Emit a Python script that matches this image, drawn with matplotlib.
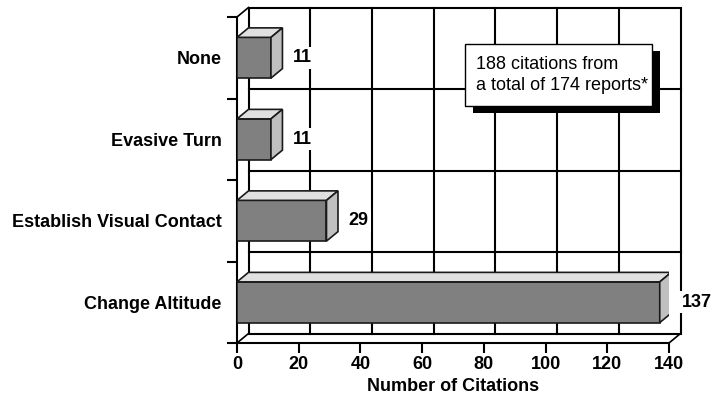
import matplotlib
matplotlib.use("Agg")
from matplotlib import pyplot as plt
from matplotlib.patches import Polygon, Rectangle
import matplotlib.patheffects as pe
import numpy as np

plt.rcParams['font.family'] = ['Liberation Sans', 'DejaVu Sans']

categories = ["Change Altitude", "Establish Visual Contact", "Evasive Turn", "None"]
citations = [137, 29, 11, 11]
xticks = [0, 20, 40, 60, 80, 100, 120, 140]
note = "188 citations from\na total of 174 reports*"

W, H = 719, 398
fig = plt.figure(figsize=(W / 100, H / 100), dpi=100)
ax = fig.add_axes([237 / W, 55 / H, 432 / W, 326 / H])

xmax = 140
ymin, ymax = -0.5, len(categories) - 0.5
ax.set_xlim(0, xmax)
ax.set_ylim(ymin, ymax)

# depth of the fake 3d box, in pixels -> data units
depth_x, depth_y = 11.5, 9.5
dx = depth_x * xmax / 432
dy = depth_y * (ymax - ymin) / 326

lw = 1.5
# back wall
ax.add_patch(Rectangle((dx, ymin + dy), xmax, ymax - ymin, fc='white', ec='black',
                       lw=lw, zorder=0, clip_on=False))
for v in xticks[1:-1]:
    ax.plot([v + dx, v + dx], [ymin + dy, ymax + dy], color='black', lw=lw, zorder=1, clip_on=False)
for b in np.arange(ymin + 1, ymax):
    ax.plot([dx, xmax + dx], [b + dy, b + dy], color='black', lw=lw, zorder=1, clip_on=False)

# slanted edges of left wall and floor
for x0, y0 in [(0, ymax), (0, ymin), (xmax, ymin)]:
    ax.plot([x0, x0 + dx], [y0, y0 + dy], color='black', lw=1.2, zorder=1, clip_on=False)

# bars
h = 0.5
ypos = np.arange(len(categories))
ax.barh(ypos, citations, height=h, color='#808080', edgecolor='#1a1a1a', lw=1.2, zorder=3)
for y, v in zip(ypos, citations):
    top = [(0, y + h / 2), (v, y + h / 2), (v + dx, y + h / 2 + dy), (dx, y + h / 2 + dy)]
    side = [(v, y - h / 2), (v, y + h / 2), (v + dx, y + h / 2 + dy), (v + dx, y - h / 2 + dy)]
    ax.add_patch(Polygon(top, closed=True, fc='#e0e0e0', ec='#1a1a1a', lw=1.2, zorder=3))
    ax.add_patch(Polygon(side, closed=True, fc='#c0c0c0', ec='#1a1a1a', lw=1.2, zorder=3))
    ax.annotate(str(v), xy=(v + dx, y), xytext=(7.5, 0), textcoords='offset points',
                ha='left', va='center', fontsize=13, fontweight='bold', zorder=4,
                annotation_clip=False,
                bbox=dict(boxstyle='square,pad=0.15', fc='white', ec='none'))

# axes frame
for s in ['top', 'right']:
    ax.spines[s].set_visible(False)
for s in ['left', 'bottom']:
    ax.spines[s].set_linewidth(lw)
    ax.spines[s].set_zorder(2)

ax.set_xticks(xticks)
ax.set_xticklabels([str(t) for t in xticks], fontsize=13, fontweight='bold')
ax.tick_params(axis='x', direction='out', length=7, width=lw, pad=2.5)
ax.set_yticks(np.arange(ymin, ymax + 0.01, 1))
ax.set_yticklabels([])
ax.set_yticks(ypos, minor=True)
ax.set_yticklabels(categories, minor=True, fontsize=13, fontweight='bold')
ax.tick_params(axis='y', which='major', direction='out', length=7, width=lw)
ax.tick_params(axis='y', which='minor', length=0, pad=11)
ax.set_xlabel("Number of Citations", fontsize=13, fontweight='bold', labelpad=3.5)

ax.patch.set_visible(False)

# note box with drop shadow
box = Rectangle((0.528, 0.727), 0.433, 0.19, transform=ax.transAxes, fc='white',
                ec='black', lw=1, zorder=5, clip_on=False)
box.set_path_effects([pe.SimplePatchShadow(offset=(5.5, -5.2), shadow_rgbFace='black', alpha=1),
                      pe.Normal()])
ax.add_patch(box)
ax.text(0.553, 0.822, note, transform=ax.transAxes, ha='left', va='center',
        fontsize=13, linespacing=1.3, zorder=6)

fig.savefig("out.png", dpi=100)
